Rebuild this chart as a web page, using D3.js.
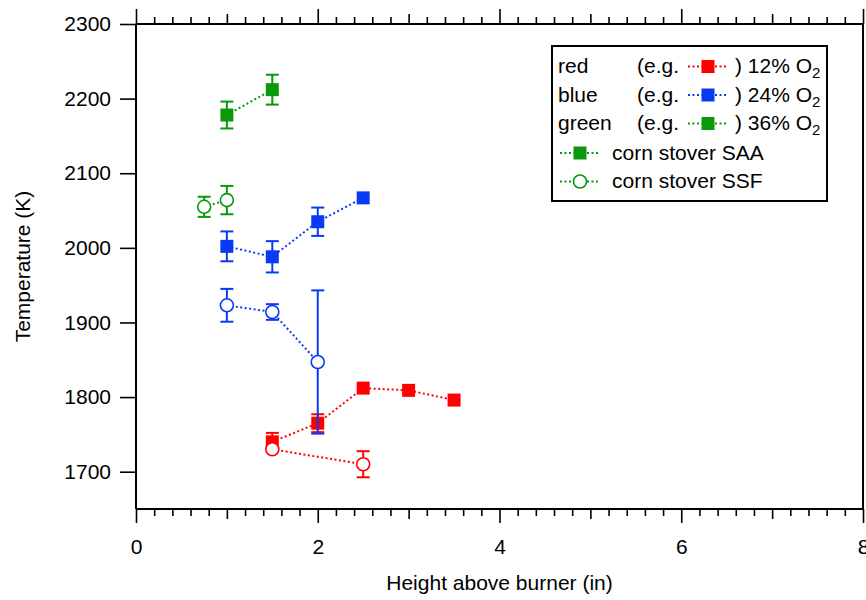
<!DOCTYPE html>
<html>
<head>
<meta charset="utf-8">
<script src="https://cdn.jsdelivr.net/npm/d3@7"></script>
<style>
  html, body { margin: 0; padding: 0; background: #fff; }
  svg { display: block; font-family: "Liberation Sans", Arial, sans-serif; }
</style>
</head>
<body>
<svg id="chart" width="866" height="600"></svg>
<script>
// ---------------- DATA ----------------
const xTicks = [0, 2, 4, 6, 8];
const yTicks = [1700, 1800, 1900, 2000, 2100, 2200, 2300];
const xLabel = "Height above burner (in)";
const yLabel = "Temperature (K)";

const redSAA_x = [1.5, 2, 2.5, 3, 3.5];
const redSAA_y = [1740, 1765, 1812, 1809, 1796];
const redSAA_e = [12, 12, 0, 0, 0];

const redSSF_x = [1.5, 2.5];
const redSSF_y = [1730, 1710];
const redSSF_e = [0, 17.5];

const blueSAA_x = [1, 1.5, 2, 2.5];
const blueSAA_y = [2002, 1988, 2035, 2067];
const blueSAA_e = [20, 21, 19, 0];

const blueSSF_x = [1, 1.5, 2];
const blueSSF_y = [1923, 1914, 1847];
const blueSSF_e = [22, 10.5, 96];

const greenSAA_x = [1, 1.5];
const greenSAA_y = [2178, 2212];
const greenSAA_e = [18, 20];

const greenSSF_x = [0.75, 1];
const greenSSF_y = [2055, 2064];
const greenSSF_e = [13.5, 19];

const legendColorNames = ["red", "blue", "green"];
const legendO2 = ["12", "24", "36"];
const legendTypes = ["corn stover SAA", "corn stover SSF"];

const COLORS = { red: "#ff0000", blue: "#0a3af5", green: "#0a990a" };

// ---------------- LAYOUT ----------------
const svg = d3.select("#chart");
const X0 = 136, X1 = 863, Y0 = 509, Y1 = 24;
const x = d3.scaleLinear().domain([0, 8]).range([X0, X1]);
const y = d3.scaleLinear().domain([1650, 2300]).range([Y0, Y1]);
const FONT = 21;

function zip(xs, ys, es) { return xs.map((v, i) => ({ x: v, y: ys[i], e: es[i] })); }

const series = [
  { color: COLORS.red,   type: "SAA", data: zip(redSAA_x, redSAA_y, redSAA_e) },
  { color: COLORS.red,   type: "SSF", data: zip(redSSF_x, redSSF_y, redSSF_e) },
  { color: COLORS.blue,  type: "SAA", data: zip(blueSAA_x, blueSAA_y, blueSAA_e) },
  { color: COLORS.blue,  type: "SSF", data: zip(blueSSF_x, blueSSF_y, blueSSF_e) },
  { color: COLORS.green, type: "SAA", data: zip(greenSAA_x, greenSAA_y, greenSAA_e) },
  { color: COLORS.green, type: "SSF", data: zip(greenSSF_x, greenSSF_y, greenSSF_e) }
];

// ---------------- AXES ----------------
const minorVals = d3.range(0, 41).map(i => i * 0.2).filter(v => Math.abs(v - Math.round(v)) > 1e-6);
const midVals = [1, 3, 5, 7];

function styleAxis(g) {
  g.select(".domain").remove();
  g.selectAll("line").attr("stroke", "#000").attr("stroke-width", 1.6);
  g.selectAll("text").attr("font-size", FONT).attr("fill", "#000")
    .attr("font-family", '"Liberation Sans", Arial, sans-serif');
}

// bottom
svg.append("g").attr("transform", `translate(0,${Y0})`)
  .call(d3.axisBottom(x).tickValues(xTicks).tickSize(14).tickPadding(16).tickFormat(d3.format("d")))
  .call(styleAxis);
svg.append("g").attr("transform", `translate(0,${Y0})`)
  .call(d3.axisBottom(x).tickValues(minorVals).tickSize(7).tickFormat(""))
  .call(styleAxis);
svg.append("g").attr("transform", `translate(0,${Y0})`)
  .call(d3.axisBottom(x).tickValues(midVals).tickSize(10).tickFormat(""))
  .call(styleAxis);

// top
svg.append("g").attr("transform", `translate(0,${Y1})`)
  .call(d3.axisTop(x).tickValues(xTicks).tickSize(15).tickFormat(""))
  .call(styleAxis);
svg.append("g").attr("transform", `translate(0,${Y1})`)
  .call(d3.axisTop(x).tickValues(minorVals).tickSize(7).tickFormat(""))
  .call(styleAxis);
svg.append("g").attr("transform", `translate(0,${Y1})`)
  .call(d3.axisTop(x).tickValues(midVals).tickSize(10).tickFormat(""))
  .call(styleAxis);

// left
svg.append("g").attr("transform", `translate(${X0},0)`)
  .call(d3.axisLeft(y).tickValues(yTicks).tickSize(16).tickPadding(9).tickFormat(d3.format("d")))
  .call(styleAxis);

// frame
const frame = svg.append("g").attr("stroke", "#000").attr("stroke-width", 2).attr("fill", "none");
frame.append("line").attr("x1", X0).attr("x2", X1).attr("y1", Y0).attr("y2", Y0);
frame.append("line").attr("x1", X0).attr("x2", X1).attr("y1", Y1).attr("y2", Y1);
frame.append("line").attr("x1", X0).attr("x2", X0).attr("y1", Y1).attr("y2", Y0);
frame.append("line").attr("x1", X1).attr("x2", X1).attr("y1", Y1).attr("y2", Y0);

// axis titles
svg.append("text").attr("x", (X0 + X1) / 2).attr("y", 590).attr("text-anchor", "middle")
  .attr("font-size", FONT).text(xLabel);
svg.append("text").attr("transform", `translate(30,${(Y0 + Y1) / 2}) rotate(-90)`)
  .attr("text-anchor", "middle").attr("font-size", FONT).text(yLabel);

// ---------------- MARKS ----------------
const SQ = 13, R = 6.5, CAP = 13;
const line = d3.line().x(d => x(d.x)).y(d => y(d.y));

function drawMarker(g, cx, cy, color, type) {
  if (type === "SAA") {
    g.append("rect").attr("x", cx - SQ / 2).attr("y", cy - SQ / 2).attr("width", SQ).attr("height", SQ)
      .attr("fill", color);
  } else {
    g.append("circle").attr("cx", cx).attr("cy", cy).attr("r", R)
      .attr("fill", "#fff").attr("stroke", color).attr("stroke-width", 1.6);
  }
}

series.forEach(s => {
  const g = svg.append("g");
  g.append("path").datum(s.data).attr("d", line).attr("fill", "none")
    .attr("stroke", s.color).attr("stroke-width", 2).attr("stroke-dasharray", "2,2.5");
  s.data.filter(d => d.e > 0).forEach(d => {
    const cx = x(d.x), yt = y(d.y + d.e), yb = y(d.y - d.e);
    g.append("line").attr("x1", cx).attr("x2", cx).attr("y1", yt).attr("y2", yb)
      .attr("stroke", s.color).attr("stroke-width", 2);
    [yt, yb].forEach(yy => g.append("line").attr("x1", cx - CAP / 2).attr("x2", cx + CAP / 2)
      .attr("y1", yy).attr("y2", yy).attr("stroke", s.color).attr("stroke-width", 2));
  });
  s.data.forEach(d => drawMarker(g, x(d.x), y(d.y), s.color, s.type));
});

// ---------------- LEGEND ----------------
const lg = svg.append("g");
lg.append("rect").attr("x", 552).attr("y", 46).attr("width", 275).attr("height", 155)
  .attr("fill", "#fff").attr("stroke", "#000").attr("stroke-width", 2);

const rowBase = [73, 101.5, 130, 159.5, 188];
legendColorNames.forEach((name, i) => {
  const b = rowBase[i], c = COLORS[name];
  lg.append("text").attr("x", 558).attr("y", b).attr("font-size", FONT).text(name);
  lg.append("text").attr("x", 637).attr("y", b).attr("font-size", FONT).text("(e.g.");
  lg.append("line").attr("x1", 688).attr("x2", 728).attr("y1", b - 6.5).attr("y2", b - 6.5)
    .attr("stroke", c).attr("stroke-width", 2).attr("stroke-dasharray", "2,2.5");
  drawMarker(lg, 708, b - 6.5, c, "SAA");
  const t = lg.append("text").attr("x", 735).attr("y", b).attr("font-size", FONT);
  t.append("tspan").text(") " + legendO2[i] + "% O");
  t.append("tspan").attr("font-size", 15).attr("dy", 5).text("2");
});
legendTypes.forEach((name, i) => {
  const b = rowBase[3 + i], c = COLORS.green;
  lg.append("line").attr("x1", 560).attr("x2", 600).attr("y1", b - 6.5).attr("y2", b - 6.5)
    .attr("stroke", c).attr("stroke-width", 2).attr("stroke-dasharray", "2,2.5");
  drawMarker(lg, 580, b - 6.5, c, i === 0 ? "SAA" : "SSF");
  lg.append("text").attr("x", 612).attr("y", b).attr("font-size", FONT).text(name);
});
</script>
</body>
</html>
